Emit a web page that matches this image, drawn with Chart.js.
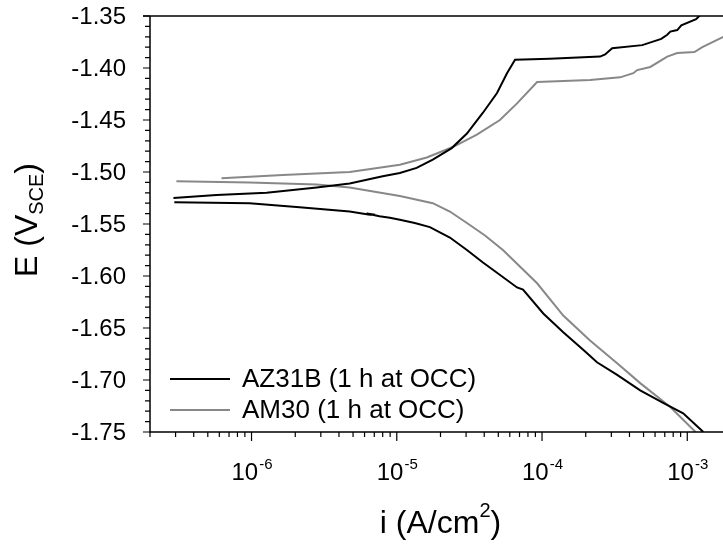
<!DOCTYPE html>
<html>
<head>
<meta charset="utf-8">
<title>Polarization curves</title>
<script src="https://cdn.jsdelivr.net/npm/chart.js@4.4.1/dist/chart.umd.min.js"></script>
<style>
  html, body { margin: 0; padding: 0; background: #fff; overflow: hidden; }
</style>
</head>
<body>
<canvas id="tafel" width="760" height="544"></canvas>
<script>
// AZ31B, cathodic branch (from high current up to Ecorr)
const az31bCathI = [1.29e-3, 9.37e-4, 6.82e-4, 4.74e-4, 3.29e-4, 2.39e-4, 1.92e-4, 1.40e-4, 1.02e-4,
  7.40e-5, 6.73e-5, 4.59e-5, 3.92e-5, 3.04e-5, 2.32e-5, 1.69e-5, 1.33e-5, 1.05e-5, 8.96e-6,
  7.6e-6, 6.2e-6, 7.1e-6, 6.52e-6, 4.74e-6, 2.14e-6, 9.7e-7, 2.94e-7];
const az31bCathE = [-1.750, -1.732, -1.722, -1.710, -1.695, -1.683, -1.671, -1.654, -1.636,
  -1.613, -1.611, -1.594, -1.587, -1.575, -1.563, -1.553, -1.549, -1.546, -1.544,
  -1.5425, -1.540, -1.541, -1.541, -1.538, -1.534, -1.530, -1.529];
// AZ31B, anodic branch
const az31bAnodI = [2.90e-7, 5.74e-7, 1.27e-6, 2.81e-6, 4.74e-6, 8.0e-6, 1.05e-5, 1.37e-5, 1.77e-5,
  2.39e-5, 3.04e-5, 3.92e-5, 4.90e-5, 5.74e-5, 6.52e-5, 1.13e-4, 2.51e-4, 2.72e-4, 3.04e-4,
  4.90e-4, 6.62e-4, 7.28e-4, 7.64e-4, 8.53e-4, 9.10e-4, 1.15e-3, 1.23e-3];
const az31bAnodE = [-1.525, -1.522, -1.520, -1.515, -1.511, -1.504, -1.501, -1.496, -1.488,
  -1.477, -1.463, -1.443, -1.424, -1.405, -1.392, -1.391, -1.389, -1.387, -1.381,
  -1.378, -1.372, -1.368, -1.365, -1.3635, -1.359, -1.353, -1.349];

// AM30, cathodic branch
const am30CathI = [1.14e-3, 7.64e-4, 4.74e-4, 3.29e-4, 2.14e-4, 1.40e-4, 9.25e-5, 5.38e-5, 4.05e-5,
  3.04e-5, 2.32e-5, 1.77e-5, 1.05e-5, 4.74e-6, 2.81e-6, 9.7e-7, 3.04e-7];
const am30CathE = [-1.750, -1.726, -1.703, -1.684, -1.662, -1.638, -1.607, -1.575, -1.561,
  -1.549, -1.538, -1.530, -1.523, -1.515, -1.512, -1.510, -1.509];
// AM30, anodic branch
const am30AnodI = [6.21e-7, 1.64e-6, 4.74e-6, 1.05e-5, 1.61e-5, 2.43e-5, 3.56e-5, 5.13e-5, 6.73e-5,
  9.25e-5, 2.14e-4, 3.45e-4, 4.25e-4, 4.52e-4, 5.56e-4, 7.28e-4, 8.53e-4, 1.12e-3, 1.27e-3,
  1.77e-3, 2.32e-3];
const am30AnodE = [-1.506, -1.503, -1.500, -1.493, -1.486, -1.476, -1.464, -1.450, -1.434,
  -1.4135, -1.4115, -1.409, -1.405, -1.402, -1.399, -1.389, -1.3856, -1.3846, -1.380,
  -1.370, -1.363];

const seriesLabels = ['AZ31B (1 h at OCC)', 'AM30 (1 h at OCC)'];
const seriesColors = ['#000000', '#888888'];

const xMin = 2e-7, xMax = 2e-3;
const yMin = -1.75, yMax = -1.35;
const yTickValues = [-1.35, -1.40, -1.45, -1.50, -1.55, -1.60, -1.65, -1.70, -1.75];
const xTickExponents = [-6, -5, -4, -3];

const FONT = "'Liberation Sans', Arial, sans-serif";

// cathodic + gap + anodic, so the two branches are not joined
function branches(ci, ce, ai, ae) {
  const pts = ci.map((v, k) => ({ x: v, y: ce[k] }));
  pts.push({ x: null, y: null });
  ai.forEach((v, k) => pts.push({ x: v, y: ae[k] }));
  return pts;
}

const axesPlugin = {
  id: 'axesPlugin',
  afterDraw(chart) {
    const { ctx, chartArea: a, scales } = chart;
    const xs = scales.x, ys = scales.y;
    ctx.save();
    ctx.strokeStyle = '#000';
    ctx.lineWidth = 1.5;

    // frame: left, bottom, top (right side runs past the canvas)
    ctx.beginPath();
    ctx.moveTo(a.left - 7, a.top);
    ctx.lineTo(a.right, a.top);
    ctx.moveTo(a.left, a.top);
    ctx.lineTo(a.left, a.bottom);
    ctx.lineTo(a.right, a.bottom);
    ctx.stroke();

    // y ticks, every 0.01, major every 0.05
    ctx.lineWidth = 1.2;
    ctx.beginPath();
    for (let k = 0; k <= 40; k++) {
      const py = ys.getPixelForValue(yMin + k * 0.01);
      const len = k % 5 === 0 ? 7 : 5;
      ctx.moveTo(a.left - len, py);
      ctx.lineTo(a.left, py);
    }
    // x ticks on the log scale
    for (let d = -7; d <= -3; d++) {
      for (let m = 1; m <= 9; m++) {
        const v = m * Math.pow(10, d);
        if (v < xMin * 0.999 || v > xMax * 1.001) continue;
        const px = xs.getPixelForValue(v);
        const len = m === 1 ? 9 : 5;
        ctx.moveTo(px, a.bottom);
        ctx.lineTo(px, a.bottom + len);
      }
    }
    ctx.stroke();

    // y tick labels
    ctx.fillStyle = '#000';
    ctx.font = '24px ' + FONT;
    ctx.textAlign = 'right';
    ctx.textBaseline = 'middle';
    yTickValues.forEach(v => {
      ctx.fillText(v.toFixed(2), a.left - 24, ys.getPixelForValue(v) + 1);
    });

    // x tick labels, 10 with superscript exponent
    ctx.textAlign = 'left';
    ctx.textBaseline = 'alphabetic';
    xTickExponents.forEach(e => {
      const px = xs.getPixelForValue(Math.pow(10, e));
      ctx.font = '24px ' + FONT;
      const wBase = ctx.measureText('10').width;
      ctx.font = '15px ' + FONT;
      const wExp = ctx.measureText(String(e)).width;
      const x0 = px - (wBase + wExp) / 2;
      ctx.font = '24px ' + FONT;
      ctx.fillText('10', x0, 480);
      ctx.font = '15px ' + FONT;
      ctx.fillText(String(e), x0 + wBase + 1, 469);
    });

    // x axis title: i (A/cm2)
    const big = '32px ' + FONT, small = '20px ' + FONT;
    ctx.font = big;
    const w1 = ctx.measureText('i (A/cm').width;
    const w3 = ctx.measureText(')').width;
    ctx.font = small;
    const w2 = ctx.measureText('2').width;
    let tx = (a.left + a.right) / 2 - (w1 + w2 + w3) / 2;
    ctx.font = big;
    ctx.fillText('i (A/cm', tx, 533);
    ctx.font = small;
    ctx.fillText('2', tx + w1, 517);
    ctx.font = big;
    ctx.fillText(')', tx + w1 + w2, 533);

    // y axis title: E (V_SCE), rotated
    ctx.save();
    ctx.translate(37, (a.top + a.bottom) / 2 - 4);
    ctx.rotate(-Math.PI / 2);
    ctx.font = big;
    const e1 = ctx.measureText('E (V').width;
    const e3 = ctx.measureText(')').width;
    ctx.font = small;
    const e2 = ctx.measureText('SCE').width;
    tx = -(e1 + e2 + e3) / 2;
    ctx.font = big;
    ctx.fillText('E (V', tx, 0);
    ctx.font = small;
    ctx.fillText('SCE', tx + e1, 6);
    ctx.font = big;
    ctx.fillText(')', tx + e1 + e2, 0);
    ctx.restore();

    // legend inside the plot, bottom left
    ctx.font = '26px ' + FONT;
    ctx.textBaseline = 'middle';
    chart.data.datasets.forEach((ds, k) => {
      const ly = 379 + k * 31;
      ctx.strokeStyle = ds.borderColor;
      ctx.lineWidth = 2;
      ctx.beginPath();
      ctx.moveTo(170, ly);
      ctx.lineTo(230, ly);
      ctx.stroke();
      ctx.fillStyle = '#000';
      ctx.fillText(ds.label, 242, ly + 1);
    });
    ctx.restore();
  }
};

new Chart(document.getElementById('tafel'), {
  type: 'scatter',
  data: {
    datasets: [
      {
        label: seriesLabels[0],
        data: branches(az31bCathI, az31bCathE, az31bAnodI, az31bAnodE),
        borderColor: seriesColors[0],
        borderWidth: 2,
        showLine: true,
        pointRadius: 0,
        spanGaps: false
      },
      {
        label: seriesLabels[1],
        data: branches(am30CathI, am30CathE, am30AnodI, am30AnodE),
        borderColor: seriesColors[1],
        borderWidth: 2,
        showLine: true,
        pointRadius: 0,
        spanGaps: false
      }
    ]
  },
  options: {
    responsive: false,
    animation: false,
    events: [],
    layout: { padding: { left: 150, top: 16, right: 29, bottom: 112 } },
    plugins: { legend: { display: false }, tooltip: { enabled: false } },
    scales: {
      x: { type: 'logarithmic', min: xMin, max: xMax, display: false },
      y: { type: 'linear', min: yMin, max: yMax, display: false }
    }
  },
  plugins: [axesPlugin]
});
</script>
</body>
</html>
